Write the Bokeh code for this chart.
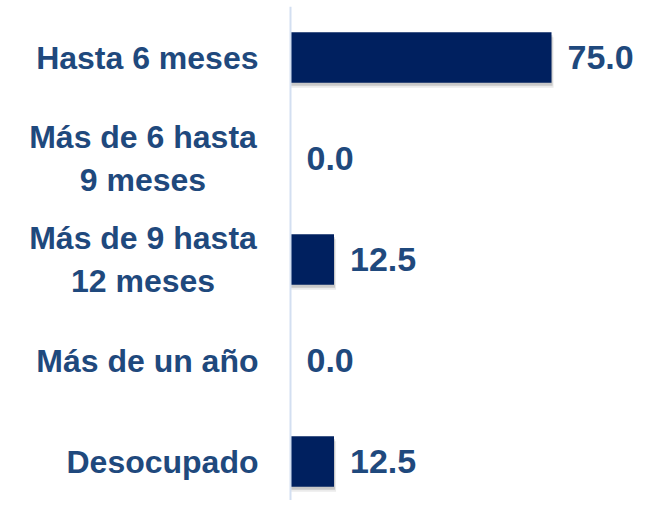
from bokeh.plotting import figure
from bokeh.models import Range1d, ColumnDataSource, Span
from bokeh.core.properties import value
from bokeh.embed import file_html
from bokeh.resources import INLINE

categories = ["Hasta 6 meses", "Más de 6 hasta\n9 meses", "Más de 9 hasta\n12 meses", "Más de un año", "Desocupado"]
values = [75.0, 0.0, 12.5, 0.0, 12.5]

pos = list(range(len(categories)))
labels = [f"{v:.1f}" for v in values]

TEXT_COLOR = "#1F497D"
BAR_COLOR = "#00205F"
PX = 3.48            # pixels per data unit
LEFT = 290           # pixel position of the zero line

src = ColumnDataSource(dict(y=pos, v=values, lab=labels,
                            ys1=[p + 0.03 for p in pos], vs1=[v + 0.3 if v > 0 else 0 for v in values],
                            ys2=[p + 0.05 for p in pos], vs2=[v + 0.6 if v > 0 else 0 for v in values]))

p = figure(width=640, height=500, output_backend="svg", toolbar_location=None,
           x_range=Range1d(-LEFT / PX, (640 - LEFT) / PX), y_range=Range1d(start=4.386, end=-0.505),
           min_border_left=0, min_border_right=0, min_border_top=6, min_border_bottom=0)

p.add_layout(Span(location=0, dimension="height", line_color="#D3DFF1", line_width=2))

p.hbar(y="ys2", left=0, right="vs2", height=0.5, source=src, fill_color="#000000", fill_alpha=0.08, line_color=None)
p.hbar(y="ys1", left=0, right="vs1", height=0.5, source=src, fill_color="#000000", fill_alpha=0.15, line_color=None)
p.hbar(y="y", left=0, right="v", height=0.5, source=src, fill_color=BAR_COLOR, line_color=None)

p.text(x="v", y="y", text="lab", source=src, x_offset=16, text_align="left", text_baseline="middle",
       text_font=value("Liberation Sans"), text_font_style="bold", text_font_size="34px", text_color=TEXT_COLOR)

# category labels: single lines right-aligned, two-line labels centred as a block
single = [(i, c) for i, c in zip(pos, categories) if "\n" not in c]
multi = [(i, c) for i, c in zip(pos, categories) if "\n" in c]
ssrc = ColumnDataSource(dict(y=[m[0] for m in single], t=[m[1] for m in single]))
msrc = ColumnDataSource(dict(y=[m[0] for m in multi], t=[m[1] for m in multi]))
p.text(x=-32 / PX, y="y", text="t", source=ssrc, text_align="right", text_baseline="middle",
       text_font=value("Liberation Sans"), text_font_style="bold", text_font_size="32px", text_color=TEXT_COLOR)
p.text(x=-147.5 / PX, y="y", text="t", source=msrc, text_align="center", text_baseline="middle",
       text_font=value("Liberation Sans"), text_font_style="bold", text_font_size="32px", text_color=TEXT_COLOR,
       text_line_height=1.2)

p.xaxis.visible = False
p.yaxis.visible = False
p.xgrid.visible = False
p.ygrid.visible = False
p.outline_line_color = None

open("out.html", "w").write(file_html(p, INLINE))
